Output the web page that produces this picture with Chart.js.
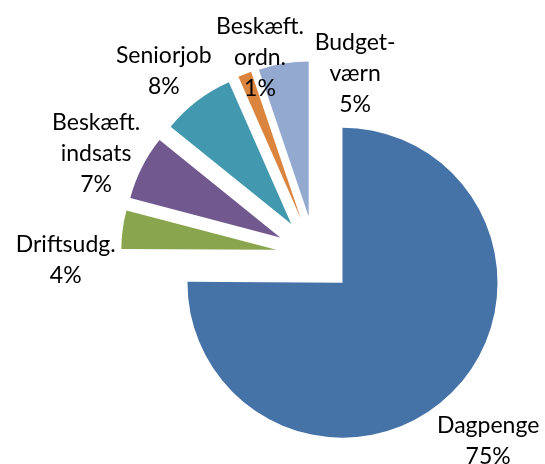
<!DOCTYPE html>
<html>
<head>
<meta charset="utf-8">
<script src="https://cdn.jsdelivr.net/npm/chart.js@4"></script>
<style>
  body { margin: 0; background: #fff; }
  #wrap { width: 545px; height: 464px; }
</style>
</head>
<body>
<div id="wrap"><canvas id="pie-chart"></canvas></div>
<script>
// data
const categories = [['Dagpenge'], ['Driftsudg.'], ['Beskæft.', 'indsats'], ['Seniorjob'], ['Beskæft.', 'ordn.'], ['Budget-', 'værn']];
const shares = [75.1, 4.0, 6.7, 7.6, 1.4, 5.2];
const colors = ['#4572A7', '#89A54E', '#71588F', '#4198AF', '#DB843D', '#93A9CF'];

// label placement: shift from the point just outside each slice
const labelNudge = [[35, 46], [-55, 30], [-44, -14], [-32, -29], [16, -16], [72, 11]];
const explode = 39;
const fontSize = 23;
const lineHeight = 31;

// push every slice out along its middle angle
const explodePlugin = {
  id: 'explode',
  afterDatasetUpdate(chart, args) {
    args.meta.data.forEach(arc => {
      const mid = (arc.startAngle + arc.endAngle) / 2;
      arc.x += Math.cos(mid) * explode;
      arc.y += Math.sin(mid) * explode;
    });
  }
};

const labelPlugin = {
  id: 'sliceLabels',
  afterDatasetsDraw(chart) {
    const ctx = chart.ctx;
    const arcs = chart.getDatasetMeta(0).data;
    const total = shares.reduce((a, b) => a + b, 0);
    ctx.save();
    ctx.font = fontSize + 'px Lato';
    ctx.fillStyle = '#000';
    ctx.textAlign = 'center';
    ctx.textBaseline = 'alphabetic';
    arcs.forEach((arc, i) => {
      const mid = (arc.startAngle + arc.endAngle) / 2;
      const r = arc.outerRadius + 2;
      const cx = arc.x + Math.cos(mid) * r + labelNudge[i][0];
      const cy = arc.y + Math.sin(mid) * r + labelNudge[i][1];
      const lines = categories[i].concat([Math.round(shares[i] / total * 100) + '%']);
      const capH = fontSize * 0.72;
      const blockH = capH + (lines.length - 1) * lineHeight;
      let y = cy - blockH / 2 + capH;
      lines.forEach(line => {
        ctx.fillText(line, cx, y);
        y += lineHeight;
      });
    });
    ctx.restore();
  }
};

new Chart(document.getElementById('pie-chart'), {
  type: 'pie',
  data: {
    labels: categories,
    datasets: [{
      data: shares,
      backgroundColor: colors,
      borderWidth: 0
    }]
  },
  options: {
    responsive: true,
    maintainAspectRatio: false,
    animation: false,
    radius: 155,
    layout: { padding: { left: 85, right: 0, top: 46, bottom: 0 } },
    plugins: {
      legend: { display: false },
      tooltip: { enabled: false }
    }
  },
  plugins: [explodePlugin, labelPlugin]
});
</script>
</body>
</html>
